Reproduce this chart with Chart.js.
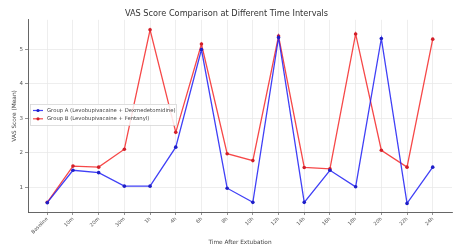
<!DOCTYPE html>
<html>
<head>
<meta charset="utf-8">
<script src="https://cdn.jsdelivr.net/npm/chart.js@4"></script>
<style>
  html, body { margin: 0; padding: 0; background: #fff; }
  #wrap { width: 456px; height: 249px; }
</style>
</head>
<body>
<div id="wrap"><canvas id="vasChart" width="456" height="249"></canvas></div>
<script>
const timePoints = ["Baseline", "10m", "20m", "30m", "1h", "4h", "6h", "8h", "10h", "12h", "14h", "16h", "18h", "20h", "22h", "24h"];
const groupA = [0.55, 1.49, 1.42, 1.03, 1.03, 2.16, 4.99, 0.97, 0.56, 5.34, 0.56, 1.49, 1.01, 5.31, 0.53, 1.58];
const groupB = [0.56, 1.61, 1.58, 2.10, 5.56, 2.59, 5.15, 1.97, 1.77, 5.38, 1.57, 1.53, 5.44, 2.07, 1.58, 5.29];
const yTicks = [1, 2, 3, 4, 5];

const toPoints = arr => arr.map((v, i) => ({ x: i, y: v }));

// legend drawn inside the plot, like the original
const insideLegend = {
    id: 'insideLegend',
    afterDraw(chart) {
        const ctx = chart.ctx;
        const x0 = 30, y0 = 104, w = 146, h = 21;
        ctx.save();
        ctx.fillStyle = 'rgba(255,255,255,0.85)';
        ctx.strokeStyle = '#d6d6d6';
        ctx.lineWidth = 0.8;
        ctx.fillRect(x0, y0, w, h);
        ctx.strokeRect(x0 + 0.5, y0 + 0.5, w, h);
        ctx.font = '5.3px "DejaVu Sans"';
        ctx.textBaseline = 'middle';
        chart.data.datasets.forEach((ds, i) => {
            const y = y0 + 6.5 + i * 8.3;
            ctx.strokeStyle = ds.borderColor;
            ctx.lineWidth = 1.2;
            ctx.beginPath();
            ctx.moveTo(x0 + 3, y);
            ctx.lineTo(x0 + 13, y);
            ctx.stroke();
            ctx.fillStyle = ds.pointBackgroundColor;
            ctx.beginPath();
            ctx.arc(x0 + 8, y, 1.6, 0, Math.PI * 2);
            ctx.fill();
            ctx.fillStyle = '#444';
            ctx.fillText(ds.label, x0 + 17, y);
        });
        ctx.restore();
    }
};

const ctx = document.getElementById("vasChart").getContext("2d");
new Chart(ctx, {
    type: 'line',
    data: {
        datasets: [
            {
                label: "Group A (Levobupivacaine + Dexmedetomidine)",
                data: toPoints(groupA),
                borderColor: "rgba(30,30,245,0.85)",
                pointBackgroundColor: "rgba(30,30,200,1)",
                pointBorderWidth: 0,
                pointRadius: 1.8,
                borderWidth: 1.3,
                tension: 0
            },
            {
                label: "Group B (Levobupivacaine + Fentanyl)",
                data: toPoints(groupB),
                borderColor: "rgba(245,40,40,0.85)",
                pointBackgroundColor: "rgba(210,30,40,1)",
                pointBorderWidth: 0,
                pointRadius: 1.8,
                borderWidth: 1.3,
                tension: 0
            }
        ]
    },
    options: {
        responsive: false,
        animation: false,
        layout: { padding: { left: 0, right: 3, top: 0, bottom: 0 } },
        plugins: {
            legend: { display: false },
            tooltip: { enabled: false },
            title: {
                display: true,
                text: "VAS Score Comparison at Different Time Intervals",
                color: '#333',
                font: { family: 'DejaVu Sans', size: 8.2, weight: 'normal' },
                padding: { top: 9, bottom: 1 }
            }
        },
        scales: {
            x: {
                type: 'linear',
                min: -0.75,
                max: 15.75,
                afterBuildTicks: s => { s.ticks = timePoints.map((_, i) => ({ value: i })); },
                afterFit: s => { s.height = 37; },
                ticks: {
                    callback: v => timePoints[v],
                    minRotation: 45,
                    maxRotation: 45,
                    color: '#555',
                    padding: 1,
                    font: { family: 'DejaVu Sans', size: 5 }
                },
                grid: { color: '#e6e6e6', lineWidth: 0.7, tickLength: 3, tickColor: '#666' },
                border: { color: '#555', width: 0.9 },
                title: {
                    display: true,
                    text: "Time After Extubation",
                    color: '#444',
                    font: { family: 'DejaVu Sans', size: 5.8 },
                    padding: { top: 0, bottom: 3.4 }
                }
            },
            y: {
                min: 0.28,
                max: 5.85,
                afterBuildTicks: s => { s.ticks = yTicks.map(v => ({ value: v })); },
                afterFit: s => { s.width = 28; },
                ticks: {
                    color: '#555',
                    padding: 2,
                    font: { family: 'DejaVu Sans', size: 5.5 }
                },
                grid: { color: '#e6e6e6', lineWidth: 0.7, tickLength: 3, tickColor: '#666' },
                border: { color: '#555', width: 0.9 },
                title: {
                    display: true,
                    text: "VAS Score (Mean)",
                    color: '#444',
                    font: { family: 'DejaVu Sans', size: 5.8 },
                    padding: { top: 11, bottom: 0 }
                }
            }
        }
    },
    plugins: [insideLegend]
});
</script>
</body>
</html>
